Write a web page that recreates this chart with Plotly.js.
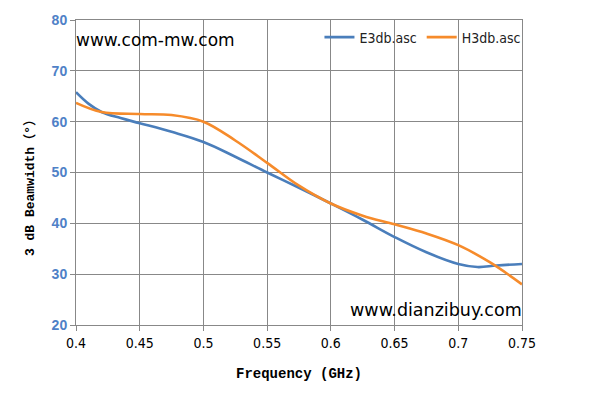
<!DOCTYPE html>
<html>
<head>
<meta charset="utf-8">
<script src="https://cdn.plot.ly/plotly-3.0.1.min.js"></script>
<style>html,body{margin:0;padding:0;background:#fff;}#chart{width:596px;height:408px;}</style>
</head>
<body>
<div id="chart"></div>
<script>
const freqE = [0.4, 0.41, 0.42, 0.435, 0.45, 0.475, 0.5, 0.525, 0.55, 0.575, 0.6, 0.625, 0.65, 0.675, 0.7, 0.715, 0.73, 0.75];
const e3db  = [65.8, 63.5, 61.9, 60.7, 59.7, 58.0, 56.0, 53.1, 50.0, 47.0, 43.9, 40.7, 37.3, 34.3, 32.0, 31.4, 31.7, 32.0];
const freqH = [0.4, 0.42, 0.45, 0.475, 0.5, 0.525, 0.55, 0.575, 0.6, 0.625, 0.65, 0.675, 0.7, 0.725, 0.75];
const h3db  = [63.7, 61.9, 61.5, 61.3, 60.0, 56.3, 51.9, 47.4, 43.9, 41.5, 39.8, 38.0, 35.7, 32.3, 28.0];
const xTicks = [0.4, 0.45, 0.5, 0.55, 0.6, 0.65, 0.7, 0.75];
const xTickText = ['0.4', '0.45', '0.5', '0.55', '0.6', '0.65', '0.7', '0.75'];
const yTicks = [20, 30, 40, 50, 60, 70, 80];
const seriesNames = ['E3db.asc', 'H3db.asc'];

const traces = [
  {x: freqE, y: e3db, name: seriesNames[0], mode: 'lines', line: {color: '#4a7ebb', width: 2.6, shape: 'spline', smoothing: 1.1}},
  {x: freqH, y: h3db, name: seriesNames[1], mode: 'lines', line: {color: '#f68b2b', width: 2.6, shape: 'spline', smoothing: 1}}
];

const layout = {
  width: 596, height: 408,
  margin: {l: 76, r: 74, t: 20, b: 83},
  paper_bgcolor: '#fff', plot_bgcolor: '#fff',
  showlegend: true,
  legend: {orientation: 'h', x: 1.01, xanchor: 'right', y: 0.995, yanchor: 'top',
    font: {family: 'DejaVu Sans Condensed, Liberation Sans, sans-serif', size: 14, color: '#222'},
    bgcolor: 'rgba(0,0,0,0)', itemwidth: 30, tracegroupgap: 0},
  xaxis: {
    range: [0.4, 0.75], tickvals: xTicks, ticktext: xTickText,
    showgrid: true, gridcolor: '#888', gridwidth: 1,
    showline: true, linecolor: '#888', linewidth: 1, mirror: true,
    ticks: 'outside', ticklen: 5, tickcolor: '#888',
    tickfont: {family: 'DejaVu Sans Condensed, Liberation Sans, sans-serif', size: 14, color: '#000'},
    zeroline: false,
    title: {text: 'Frequency (GHz)', font: {family: 'Liberation Mono, monospace', size: 14, color: '#000', weight: 'bold'}, standoff: 18}
  },
  yaxis: {
    range: [20, 80], tickvals: yTicks,
    showgrid: true, gridcolor: '#888', gridwidth: 1,
    showline: true, linecolor: '#888', linewidth: 1, mirror: true,
    ticks: 'outside', ticklen: 5, tickcolor: '#888',
    tickfont: {family: 'Liberation Sans, Arial, sans-serif', size: 14, color: '#4f81c7', weight: 'bold'},
    zeroline: false,
    title: {text: ''}
  },
  annotations: [
    {text: '3 dB Beamwidth（°）', xref: 'paper', yref: 'paper', x: -0.103, y: 0.459, xanchor: 'center', yanchor: 'middle', textangle: -90, showarrow: false,
     font: {family: 'Liberation Mono, Noto Sans CJK SC, monospace', size: 13, color: '#000', weight: 'bold'}},
    {text: 'www.com-mw.com', xref: 'paper', yref: 'paper', x: -0.005, y: 0.935, xanchor: 'left', yanchor: 'middle', showarrow: false,
     font: {family: 'DejaVu Sans, Liberation Sans, sans-serif', size: 17, color: '#000'}},
    {text: 'www.dianzibuy.com', xref: 'paper', yref: 'paper', x: 1.005, y: 0.05, xanchor: 'right', yanchor: 'middle', showarrow: false,
     font: {family: 'DejaVu Sans, Liberation Sans, sans-serif', size: 17.5, color: '#000'}}
  ]
};

Plotly.newPlot('chart', traces, layout, {displayModeBar: false, staticPlot: true});
</script>
</body>
</html>
